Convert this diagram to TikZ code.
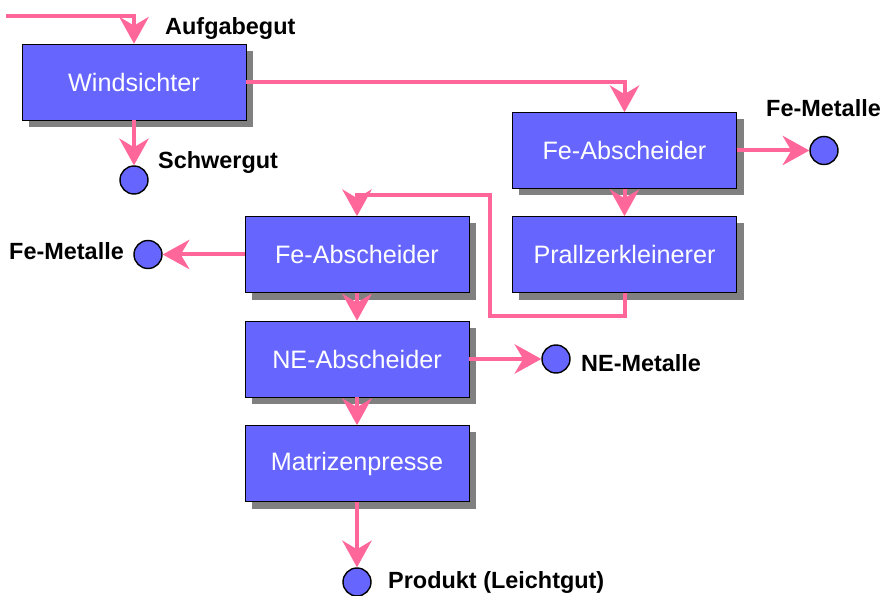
\documentclass[tikz,border=0pt]{standalone}
\usepackage{fontspec}
\setmainfont{Liberation Sans}
\usetikzlibrary{arrows.meta,shadows}
\definecolor{feedpink}{HTML}{FF6699}
\definecolor{unitblue}{HTML}{6666FF}
\definecolor{shadegray}{HTML}{808080}

\begin{document}
\begin{tikzpicture}[x=0.03cm,y=-0.03cm,
		stage/.style={draw=black,line width=0.6pt,fill=unitblue,text=white,minimum width=6.72cm,minimum height=2.28cm,inner sep=0pt,font=\fontsize{21.5}{24}\selectfont,drop shadow={shadow xshift=0.21cm,shadow yshift=-0.21cm,fill=shadegray,opacity=1}},
		outlet/.style={circle,draw=black,line width=1.2pt,fill=unitblue,minimum size=0.84cm,inner sep=0pt},
		tag/.style={font=\bfseries\fontsize{20}{24}\selectfont,inner sep=0pt,anchor=base west},
		stream/.style={line width=0.12cm,draw=feedpink,-{Stealth[length=0.8cm,width=0.88cm,inset=0.26cm]}}]
		\useasboundingbox (0,0) rectangle (883,596);
		\node[stage] (wind) at (134,82) {Windsichter};
		\node[stage] (fea) at (624.5,150.5) {Fe-Abscheider};
		\node[stage] (prall) at (624.5,254.5) {Prallzerkleinerer};
		\node[stage] (feb) at (357,254.5) {Fe-Abscheider};
		\node[stage] (ne) at (357,359) {NE-Abscheider};
		\node[stage] (matr) at (357,463.5) {Matrizenpresse};
		\node[outlet] (schwer) at (134,180) {};
		\node[outlet] (fema) at (824,150.5) {};
		\node[outlet] (femb) at (148,254.5) {};
		\node[outlet] (nem) at (556,359) {};
		\node[outlet] (prod) at (357,582) {};
		\node[tag] (auf) at (165,35) {Aufgabegut};
		\node[tag] (schwertxt) at (158,169) {Schwergut};
		\node[tag] (fematxt) at (766,117) {Fe-Metalle};
		\node[tag] (fembtxt) at (9,260) {Fe-Metalle};
		\node[tag] (nemtxt) at (581,372) {NE-Metalle};
		\node[tag] (prodtxt) at (388,588) {Produkt (Leichtgut)};
		\coordinate (feed) at (6,16);
		\coordinate (back) at (490,316);
		\coordinate (up) at (490,195);
		\draw[stream] (feed) -| (wind.north);
		\draw[stream] (wind.east) -| (fea.north);
		\draw[stream] (wind.south) -- (schwer.north);
		\draw[stream] (fea.east) -- (fema.west);
		\draw[stream] (fea.south) -- (prall.north);
		\draw[stream] (prall.south) |- (back) -- (up) -| (feb.north);
		\draw[stream] (feb.west) -- (femb.east);
		\draw[stream] (feb.south) -- (ne.north);
		\draw[stream] (ne.east) -- (nem.west);
		\draw[stream] (ne.south) -- (matr.north);
		\draw[stream] (matr.south) -- (prod.north);
\end{tikzpicture}
\end{document}
